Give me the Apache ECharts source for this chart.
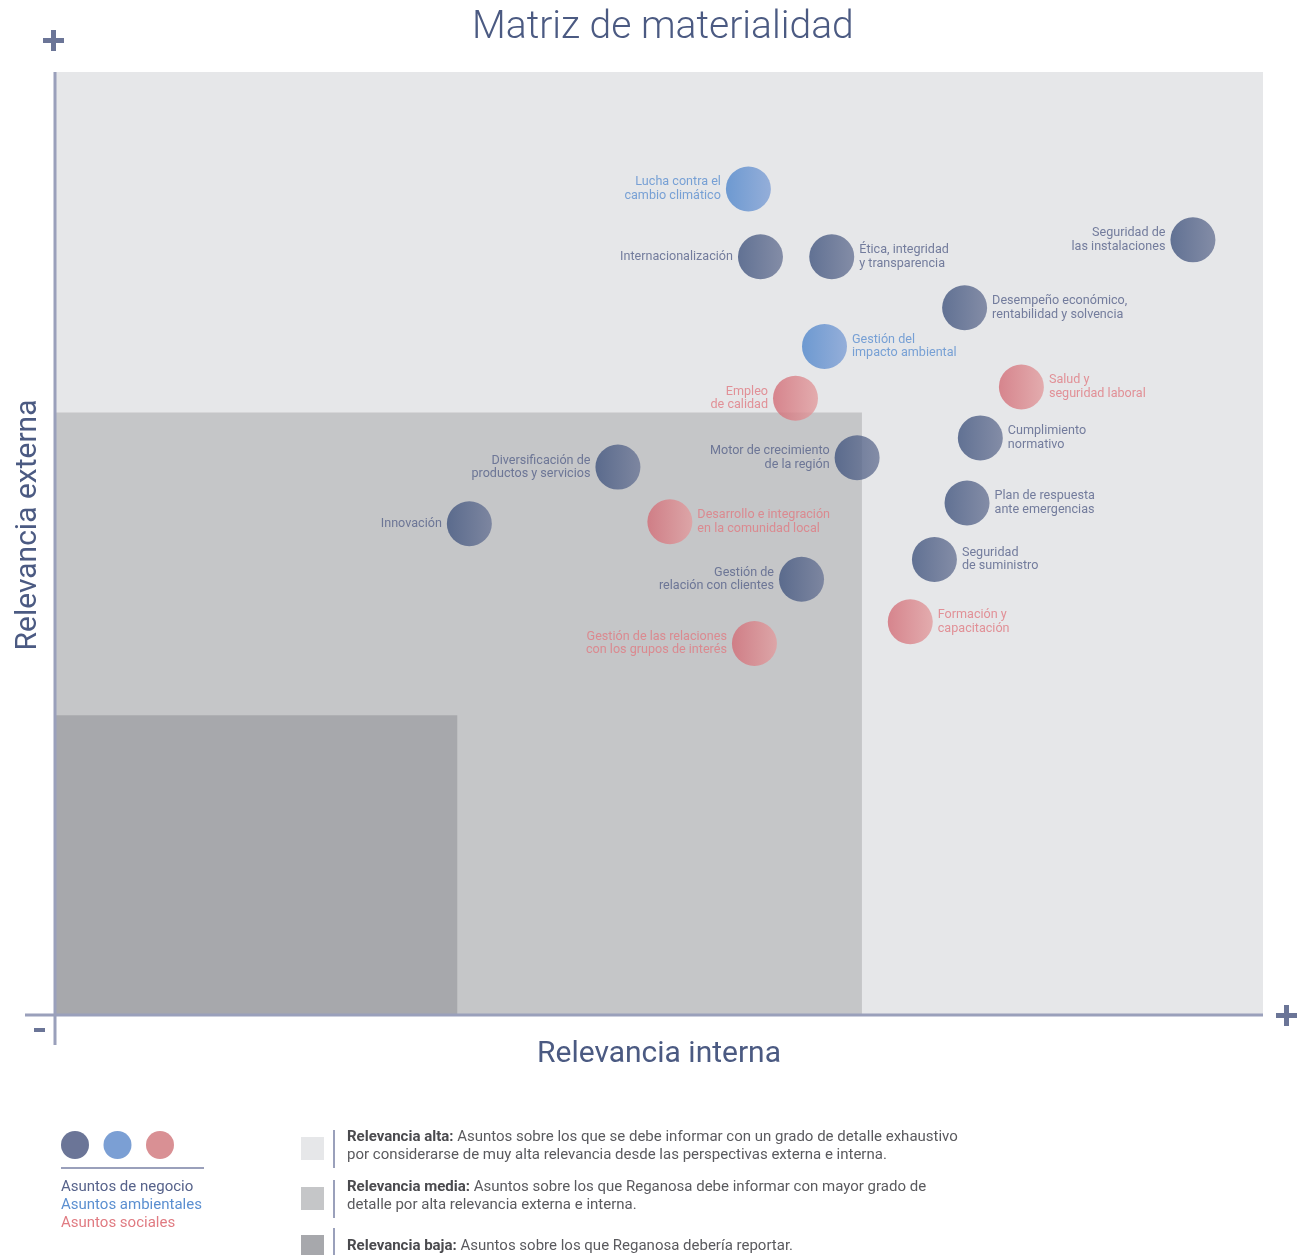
<!DOCTYPE html>
<html>
<head>
<meta charset="utf-8">
<title>Matriz de materialidad</title>
<script src="https://cdn.jsdelivr.net/npm/echarts@6/dist/echarts.min.js"></script>
<style>
  html, body { margin: 0; padding: 0; background: #fff; }
  #chart { width: 1304px; height: 1255px; }
</style>
</head>
<body>
<div id="chart"></div>
<script>
// Datos de la matriz (relevancia interna = x, relevancia externa = y, escala 0-100)
const issueNames = [
    'Lucha contra el\ncambio climático',
    'Internacionalización',
    'Ética, integridad\ny transparencia',
    'Seguridad de\nlas instalaciones',
    'Desempeño económico,\nrentabilidad y solvencia',
    'Gestión del\nimpacto ambiental',
    'Empleo\nde calidad',
    'Salud y\nseguridad laboral',
    'Cumplimiento\nnormativo',
    'Motor de crecimiento\nde la región',
    'Diversificación de\nproductos y servicios',
    'Plan de respuesta\nante emergencias',
    'Innovación',
    'Desarrollo e integración\nen la comunidad local',
    'Seguridad\nde suministro',
    'Gestión de\nrelación con clientes',
    'Formación y\ncapacitación',
    'Gestión de las relaciones\ncon los grupos de interés'
];
const internalRelevance = [57.4, 58.4, 64.3, 94.2, 75.3, 63.7, 61.3, 80.0, 76.6, 66.4, 46.6, 75.5, 34.3, 50.9, 72.8, 61.8, 70.8, 57.9];
const externalRelevance = [87.6, 80.4, 80.4, 82.2, 75.0, 70.9, 65.4, 66.6, 61.2, 59.1, 58.1, 54.3, 52.1, 52.3, 48.3, 46.2, 41.7, 39.4];
// 0 = negocio, 1 = ambiental, 2 = social
const issueGroup = [1, 0, 0, 0, 0, 1, 2, 2, 0, 0, 0, 0, 0, 2, 0, 0, 2, 2];

const groupNames = ['Asuntos de negocio', 'Asuntos ambientales', 'Asuntos sociales'];

// Zonas de relevancia: [x máx, y máx]
const zoneNames = ['Relevancia alta', 'Relevancia media', 'Relevancia baja'];
const zoneInternalMax = [100, 66.8, 33.3];
const zoneExternalMax = [100, 63.9, 31.8];

const zoneTexts = [
    'Asuntos sobre los que se debe informar con un grado de detalle exhaustivo\npor considerarse de muy alta relevancia desde las perspectivas externa e interna.',
    'Asuntos sobre los que Reganosa debe informar con mayor grado de\ndetalle por alta relevancia externa e interna.',
    'Asuntos sobre los que Reganosa debería reportar.'
];

// lado de la etiqueta respecto al círculo
const labelSides = ['left', 'left', 'right', 'left', 'right', 'right', 'left', 'right', 'right',
    'left', 'left', 'right', 'left', 'right', 'right', 'left', 'right', 'left'];

// estilos
const FONT = 'Roboto, "Open Sans", sans-serif';
const textColors = ['#56628a', '#5b8fd0', '#e07b82'];
const gradStops = [['#40547e', '#6b7696'], ['#4f86cb', '#80a0d5'], ['#d26c76', '#e29d9f']];
const legendDots = ['#6b7597', '#7b9fd4', '#d99094'];
const zoneColors = ['#e6e7e9', '#c5c6c8', '#a7a8ac'];
const axisColor = '#9aa0bb';
const signColor = '#6b7597';
const titleColor = '#4b5a82';

function gradient(g) {
    return new echarts.graphic.LinearGradient(0, 0, 1, 0, [
        { offset: 0, color: gradStops[g][0] },
        { offset: 1, color: gradStops[g][1] }
    ]);
}

const series = groupNames.map((name, g) => ({
    name: name,
    type: 'scatter',
    symbol: 'circle',
    symbolSize: 45,
    z: 5,
    itemStyle: { color: gradient(g) },
    label: {
        show: true,
        formatter: p => p.name,
        fontFamily: FONT,
        fontSize: 12.6,
        lineHeight: 13.5,
        color: textColors[g],
        padding: [3, 0, 0, 0]
    },
    data: issueNames
        .map((n, i) => ({ i, n }))
        .filter(d => issueGroup[d.i] === g)
        .map(d => ({
            value: [internalRelevance[d.i], externalRelevance[d.i]],
            label: { position: labelSides[d.i], distance: 5 },
            name: d.n
        }))
}));

// zonas como markArea de una serie vacía
series.unshift({
    type: 'scatter',
    data: [],
    silent: true,
    z: 1,
    markArea: {
        silent: true,
        data: zoneNames.map((n, k) => [
            { xAxis: 0, yAxis: 0, itemStyle: { color: zoneColors[k] } },
            { xAxis: zoneInternalMax[k], yAxis: zoneExternalMax[k] }
        ])
    }
});

const chart = echarts.init(document.getElementById('chart'));

const graphics = [
    // ejes
    { type: 'line', z: 10, shape: { x1: 55, y1: 72, x2: 55, y2: 1045 }, style: { stroke: axisColor, lineWidth: 3 } },
    { type: 'line', z: 10, shape: { x1: 25, y1: 1015, x2: 1263, y2: 1015 }, style: { stroke: axisColor, lineWidth: 3 } },
    // signos
    { type: 'rect', z: 10, shape: { x: 43, y: 38, width: 21, height: 5 }, style: { fill: signColor } },
    { type: 'rect', z: 10, shape: { x: 51, y: 30, width: 5, height: 21 }, style: { fill: signColor } },
    { type: 'rect', z: 10, shape: { x: 1276, y: 1013, width: 21, height: 5 }, style: { fill: signColor } },
    { type: 'rect', z: 10, shape: { x: 1284, y: 1005, width: 5, height: 21 }, style: { fill: signColor } },
    { type: 'rect', z: 10, shape: { x: 34, y: 1028, width: 11, height: 4 }, style: { fill: signColor } },
    // título eje vertical
    {
        type: 'text', z: 10, x: 28, y: 525, rotation: Math.PI / 2,
        style: { text: 'Relevancia externa', fontFamily: FONT, fontSize: 30, fill: titleColor, align: 'center', verticalAlign: 'middle' }
    },
    // leyenda de grupos
    { type: 'line', shape: { x1: 61, y1: 1168, x2: 204, y2: 1168 }, style: { stroke: axisColor, lineWidth: 2 } }
];

legendDots.forEach((c, k) => {
    graphics.push({ type: 'circle', shape: { cx: 75 + k * 42.5, cy: 1145, r: 14 }, style: { fill: c } });
    graphics.push({
        type: 'text', x: 61, y: 1187 + k * 18,
        style: { text: groupNames[k], fontFamily: FONT, fontSize: 15, fill: textColors[k], verticalAlign: 'middle' }
    });
});

// leyenda de zonas
const zoneTops = [1137, 1187, 1235];
zoneNames.forEach((n, k) => {
    const top = zoneTops[k];
    graphics.push({ type: 'rect', shape: { x: 301, y: top, width: 23, height: 23 }, style: { fill: zoneColors[k] } });
    graphics.push({ type: 'line', shape: { x1: 334, y1: top - 7, x2: 334, y2: top + 31 }, style: { stroke: axisColor, lineWidth: 2 } });
    const lines = zoneTexts[k].split('\n');
    const textTop = k === 2 ? top + 2 : top - 9;
    graphics.push({
        type: 'text', x: 347, y: textTop,
        style: {
            text: '{b|' + n + ':} ' + lines[0] + (lines[1] ? '\n' + lines[1] : ''),
            fontFamily: FONT, fontSize: 15, lineHeight: 18, fill: '#5a5a5e',
            rich: { b: { fontFamily: FONT, fontSize: 15, fontWeight: 'bold', fill: '#4a4a4e', lineHeight: 18 } }
        }
    });
});

chart.setOption({
    animation: false,
    title: {
        text: 'Matriz de materialidad',
        left: 467,
        top: 4,
        textStyle: { fontFamily: FONT, fontSize: 39, fontWeight: 300, color: titleColor }
    },
    grid: { left: 55, top: 72, right: 41, bottom: 240, show: true, backgroundColor: zoneColors[0], borderWidth: 0 },
    xAxis: {
        type: 'value', min: 0, max: 100,
        name: 'Relevancia interna', nameLocation: 'middle', nameGap: 24,
        nameTextStyle: { fontFamily: FONT, fontSize: 30, color: titleColor },
        axisLine: { show: false }, axisTick: { show: false }, axisLabel: { show: false }, splitLine: { show: false }
    },
    yAxis: {
        type: 'value', min: 0, max: 100,
        axisLine: { show: false }, axisTick: { show: false }, axisLabel: { show: false }, splitLine: { show: false }
    },
    series: series,
    graphic: graphics
});
</script>
</body>
</html>
